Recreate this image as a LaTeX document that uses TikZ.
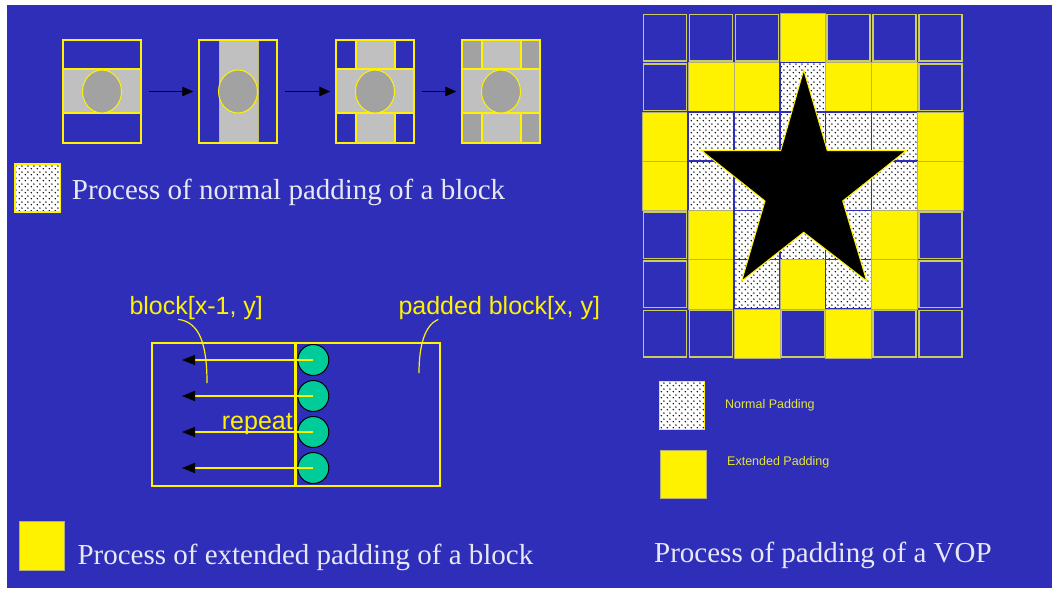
\documentclass[tikz,border=0pt]{standalone}
\usepackage{fontspec}
\setmainfont{Liberation Serif}
\setsansfont{Liberation Sans}
\usetikzlibrary{arrows.meta,patterns.meta}

\definecolor{slide}{RGB}{46,46,184}
\definecolor{lgray}{RGB}{192,192,192}
\definecolor{dgray}{RGB}{162,162,162}
\definecolor{khaki}{RGB}{205,205,95}
\definecolor{pixgreen}{RGB}{0,204,153}
\definecolor{txt}{RGB}{232,232,245}
\definecolor{keytxt}{RGB}{228,228,60}

% sparse staggered dots for the normal padding cells
\tikzdeclarepattern{
  name=paddots,
  type=uncolored,
  bottom left={(0pt,0pt)},
  top right={(6pt,6pt)},
  tile size={(6pt,6pt)},
  code={\fill (1.5pt,1.5pt) circle (0.9pt) (4.5pt,4.5pt) circle (0.9pt);}
}

\begin{document}
\begin{tikzpicture}[x=1pt, y=-1pt,
  rim/.style={yellow, line width=1.5pt},
  faint/.style={yellow!45!gray, line width=0.8pt},
  vop/.style={fill=dgray, draw=yellow, line width=1pt},
  blk/.style={draw=yellow, line width=1.5pt, minimum width=78pt, minimum height=103pt, inner sep=0pt},
  nextstep/.style={line width=1.3pt, -{Triangle[length=11pt, width=9.5pt]}},
  blank/.style={draw=khaki, line width=1.4pt, minimum width=43pt, minimum height=46.5pt, inner sep=0pt},
  extpad/.style={fill=yellow, draw=gray!70!yellow, line width=0.6pt, minimum width=45.86pt, minimum height=49.29pt, inner sep=0pt},
  normpad/.style={preaction={fill=white}, pattern=paddots, pattern color=black, draw=slide, line width=1.5pt, minimum width=45.86pt, minimum height=49.29pt, inner sep=0pt},
  half/.style={draw=yellow, line width=1.8pt, minimum height=143.3pt, inner sep=0pt},
  pix/.style={circle, fill=pixgreen, draw=black, line width=1pt, minimum size=31pt, inner sep=0pt},
  copyrow/.style={yellow, line width=1.5pt, -{Triangle[black, length=13pt, width=10pt]}},
  leader/.style={yellow, line width=1.2pt},
  heading/.style={text=txt, font=\fontsize{29}{34}\selectfont, inner sep=0pt},
  lbl/.style={text=yellow, font=\sffamily\fontsize{25}{30}\selectfont, inner sep=0pt},
  keytext/.style={text=keytxt, font=\sffamily\fontsize{12.5}{15}\selectfont, inner sep=0pt}]

\useasboundingbox (0,0) rectangle (1052,590);
\fill[slide] (7,5) rectangle (1052,588);

% normal padding of one block, step by step
\begin{scope}[shift={(63,40)}]
  \fill[lgray] (0,29) rectangle (78,73);
  \draw[rim] (0,29) -- (78,29) (0,73) -- (78,73);
  \draw[vop] (39,51.5) ellipse (19.5 and 21.5);
\end{scope}
\begin{scope}[shift={(199,40)}]
  \fill[lgray] (20,0) rectangle (59,103);
  \draw[faint] (20,0) -- (20,103) (59,0) -- (59,103);
  \draw[vop] (39,51.5) ellipse (19.5 and 21.5);
\end{scope}
\begin{scope}[shift={(336,40)}]
  \fill[lgray] (20,0) rectangle (59,103) (0,29) rectangle (78,73);
  \draw[rim] (0,29) -- (78,29) (0,73) -- (78,73) (20,0) -- (20,29) (59,0) -- (59,29) (20,73) -- (20,103) (59,73) -- (59,103);
  \draw[vop] (39,51.5) ellipse (19.5 and 21.5);
\end{scope}
\begin{scope}[shift={(462,40)}]
  \fill[lgray] (0,0) rectangle (78,103);
  \fill[dgray] (0,0) rectangle (20,29) (59,0) rectangle (78,29) (0,73) rectangle (20,103) (59,73) rectangle (78,103);
  \draw[rim] (0,29) -- (78,29) (0,73) -- (78,73) (20,0) -- (20,29) (59,0) -- (59,29) (20,73) -- (20,103) (59,73) -- (59,103);
  \draw[vop] (39,51.5) ellipse (19.5 and 21.5);
\end{scope}
\node[blk] (b1) at (102,91.5) {}; \node[blk] (b2) at (238,91.5) {};
\node[blk] (b3) at (375,91.5) {}; \node[blk] (b4) at (501,91.5) {};
\foreach \a/\b in {b1/b2,b2/b3,b3/b4}
  \draw[nextstep] ([xshift=7pt]\a.east) -- ([xshift=-5pt]\b.west);

\node[normpad, draw=yellow, minimum width=45.7pt, minimum height=48pt] (knorm) at (37.8,188) {};
\node[heading, anchor=base west] (hnorm) at (71.7,199) {Process of normal padding of a block};

% padding of the whole VOP
\foreach \cells [count=\r from 0] in {
    {blank,blank,blank,extpad,blank,blank,blank},
    {blank,extpad,extpad,normpad,extpad,extpad,blank},
    {extpad,normpad,normpad,normpad,normpad,normpad,extpad},
    {extpad,normpad,normpad,normpad,normpad,normpad,extpad},
    {blank,extpad,normpad,normpad,normpad,extpad,blank},
    {blank,extpad,normpad,extpad,normpad,extpad,blank},
    {blank,blank,extpad,blank,extpad,blank,blank}}
  \foreach \kind [count=\c from 0] in \cells
    \node[\kind] (g\r\c) at ({665.2+45.86*\c},{37.9+49.29*\r}) {};
\draw[fill=black, draw=yellow, line width=1pt, line join=miter]
  (803.7,70) -- (827.3,150.7) -- (906,150.7) -- (842.7,201) -- (866.7,281) -- (803.7,232.3)
  -- (741.7,281) -- (765,201) -- (701.7,150.7) -- (780.7,150.7) -- cycle;

\node[normpad, draw=yellow, line width=1pt, minimum width=45.3pt, minimum height=47.6pt] (gnorm) at (681.7,405.5) {};
\node[keytext, anchor=west] (gnormtxt) at ([xshift=20pt]gnorm.east) {Normal Padding};
\node[extpad, minimum width=46pt, minimum height=48.7pt] (gext) at (683.7,474.4) {};
\node[keytext, anchor=west] (gexttxt) at ([xshift=20pt, yshift=12pt]gext.east) {Extended Padding};
\node[heading, anchor=base west] (hvop) at (654,562.3) {Process of padding of a VOP};

% extended padding: copy the boundary pixels into the neighbour
\node[half, minimum width=143.3pt] (prevblk) at (223.4,414.4) {};
\node[half, minimum width=145pt] (padblk) at (367.5,414.4) {};
\draw[yellow, line width=3pt] (prevblk.north east) -- (prevblk.south east);
\foreach \i/\y in {1/360,2/396,3/432,4/468} {
  \node[pix] (c\i) at (313.3,\y) {};
  \coordinate (t\i) at (182,\y);
  \draw[copyrow] (c\i.center) -- (t\i);
}
\node[lbl, anchor=base west] (lrep) at (221.7,429) {repeat};
\node[lbl, anchor=base west] (lprev) at (129.3,314) {block[x-1, y]};
\node[lbl, anchor=base west] (lpad) at (398.3,314) {padded block[x, y]};
\coordinate (pprev) at (207,383);
\coordinate (ppad) at (419,373);
\draw[leader] ([xshift=-18pt]lprev.south) .. controls (200,322) and (207,345) .. (pprev);
\draw[leader] ([xshift=-61pt]lpad.south) .. controls (425,325) and (419,345) .. (ppad);

\node[extpad, minimum width=45.3pt, minimum height=49pt] (kext) at (41.7,545.5) {};
\node[heading, anchor=base west] (hext) at (77.3,564.3) {Process of extended padding of a block};
\end{tikzpicture}
\end{document}
